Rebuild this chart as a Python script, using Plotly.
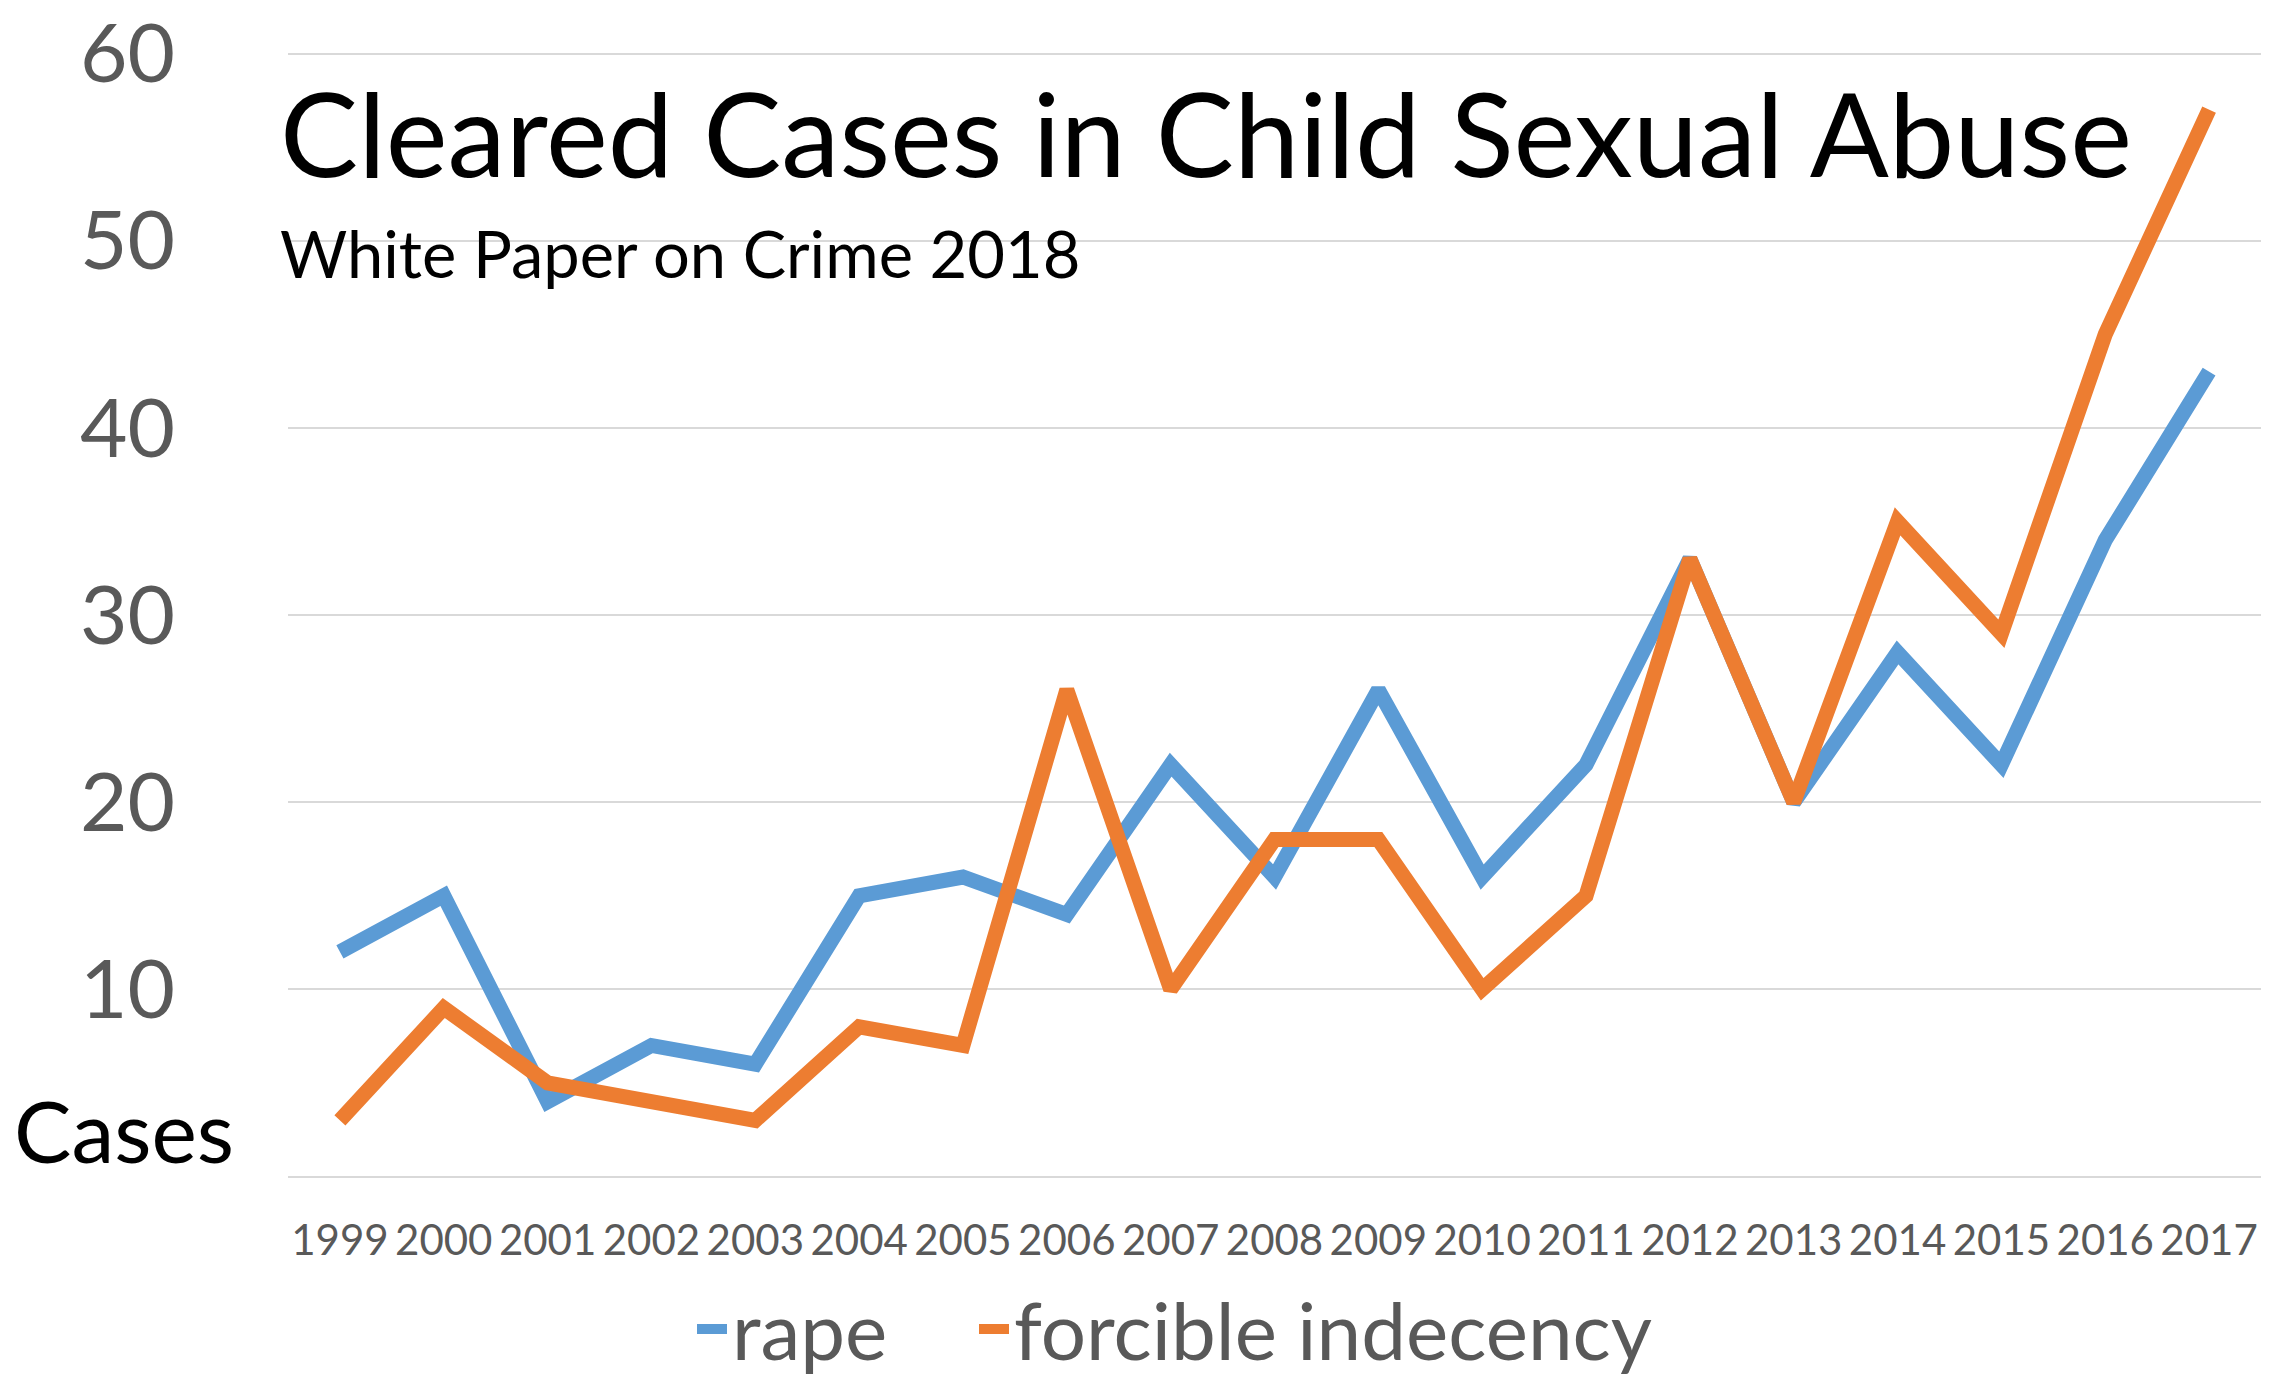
import plotly.graph_objects as go

years = [str(y) for y in range(1999, 2018)]
rape = [12, 15, 4, 7, 6, 15, 16, 14, 22, 16, 26, 16, 22, 33, 20, 28, 22, 34, 43]
forcible = [3, 9, 5, 4, 3, 8, 7, 26, 10, 18, 18, 10, 15, 33, 20, 35, 29, 45, 57]
ytickvals = [0, 10, 20, 30, 40, 50, 60]
yticktext = ["", "10", "20", "30", "40", "50", "60"]

W, H = 2280, 1376
L, R, T, B = 280, 27, 44, 206
FONT = "Lato"
GRAY = "#595959"

def py(p):
    return (H - B - p) / (H - T - B)

def px(p):
    return (p - L) / (W - L - R)

fig = go.Figure()
fig.add_trace(go.Scatter(x=years, y=rape, mode="lines", name="rape", legend="legend",
                         line=dict(color="#5B9BD5", width=15)))
fig.add_trace(go.Scatter(x=years, y=forcible, mode="lines", name="forcible indecency",
                         legend="legend2", line=dict(color="#ED7D31", width=15)))

legend_common = dict(orientation="h", yanchor="middle", y=py(1321),
                     font=dict(size=80, color=GRAY, family=FONT),
                     bgcolor="rgba(0,0,0,0)", borderwidth=0)

fig.update_layout(
    width=W, height=H,
    margin=dict(l=L, r=R, t=T, b=B, autoexpand=False),
    plot_bgcolor="white", paper_bgcolor="white",
    font=dict(family=FONT, color=GRAY),
    showlegend=True,
    legend=dict(x=px(684), xanchor="left", **legend_common),
    legend2=dict(x=px(966), xanchor="left", **legend_common),
    xaxis=dict(type="category", range=[-0.5, 18.5], showgrid=False, showline=False,
               ticks="", tickfont=dict(size=42, color=GRAY, family=FONT),
               ticklabelstandoff=34, automargin=False, fixedrange=True),
    yaxis=dict(range=[-0.08, 60.08], tickvals=ytickvals, ticktext=yticktext, showgrid=True,
               gridcolor="#D9D9D9", gridwidth=2, zeroline=False, showline=False,
               ticks="", tickfont=dict(size=82, color=GRAY, family=FONT),
               ticklabelstandoff=112, ticklabeloverflow="allow",
               automargin=False, fixedrange=True),
    annotations=[
        dict(text="Cleared Cases in Child Sexual Abuse", xref="paper", yref="paper",
             x=px(270), y=py(124), xanchor="left", yanchor="middle", showarrow=False,
             font=dict(size=117, color="black", family=FONT)),
        dict(text="White Paper on Crime 2018", xref="paper", yref="paper",
             x=px(270), y=py(245), xanchor="left", yanchor="middle", showarrow=False,
             font=dict(size=65, color="black", family=FONT)),
        dict(text="Cases", xref="paper", yref="paper",
             x=px(4), y=py(1121), xanchor="left", yanchor="middle", showarrow=False,
             font=dict(size=86, color="black", family=FONT)),
    ],
)

fig.write_html("out.html")
